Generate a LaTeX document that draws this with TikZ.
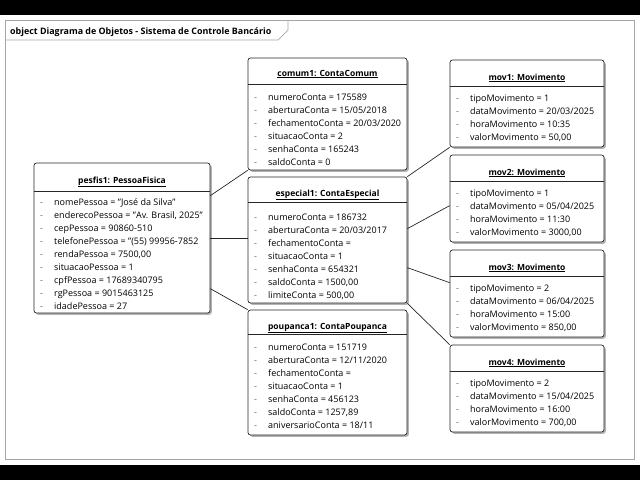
\documentclass[tikz,border=0pt]{standalone}
\usepackage{fontspec}
\setmainfont{Open Sans}
\usetikzlibrary{shadows}
\newcommand{\attrs}[1]{{\fontsize{9}{13}\selectfont\begin{tabular}[t]{@{}p{14pt}@{}l@{}}#1\end{tabular}}}
\newcommand{\dd}{\textcolor{black!60}{-}&}
\newcommand{\otitle}[1]{{\fontsize{8.5}{10}\selectfont\bfseries\underline{#1}}}
\begin{document}
\begin{tikzpicture}[x=1pt,y=-1pt,
  objbox/.style={draw=black!85, fill=white, rounded corners=2.5pt, line width=0.7pt, inner sep=0pt,
    drop shadow={shadow xshift=1.8pt, shadow yshift=-1.8pt, fill=black!30, opacity=1}},
  sepline/.style={draw=black!85, line width=0.7pt},
  ttl/.style={anchor=base, inner sep=0pt},
  att/.style={anchor=base west, inner sep=0pt},
  link/.style={draw=black!85, line width=0.7pt},
  framel/.style={draw=black!35, line width=0.7pt}]
\useasboundingbox (0,0) rectangle (640,480);
\fill[black] (0,0) rectangle (640,15);
\fill[black] (0,465) rectangle (640,480);
% frame
\draw[framel] (5,20) rectangle (634,459);
\draw[framel] (5,40) -- (278,40) -- (288,30) -- (288,20);
\node[anchor=base west, inner sep=0pt, font=\fontsize{8.9}{10}\selectfont\bfseries] (ftitle) at (10,34) {object Diagrama de Objetos - Sistema de Controle Bancário};

% boxes
\node[objbox, minimum width=176pt, minimum height=150pt] (pesfis) at (122,238) {};
\node[objbox, minimum width=159pt, minimum height=112pt] (comum) at (327.5,114) {};
\node[objbox, minimum width=159pt, minimum height=126pt] (especial) at (327.5,240) {};
\node[objbox, minimum width=159pt, minimum height=125pt] (poupanca) at (327.5,372.5) {};
\node[objbox, minimum width=154pt, minimum height=87pt] (mov1) at (527,103.5) {};
\node[objbox, minimum width=154pt, minimum height=87pt] (mov2) at (527,198.5) {};
\node[objbox, minimum width=154pt, minimum height=87pt] (mov3) at (527,293.5) {};
\node[objbox, minimum width=154pt, minimum height=87pt] (mov4) at (527,388.5) {};

% separators
\foreach \b/\d in {pesfis/29, comum/27, especial/26, poupanca/25, mov1/27, mov2/27, mov3/27, mov4/27}{
  \draw[sepline] ([yshift=-\d pt]\b.north west) -- ([yshift=-\d pt]\b.north east);
}

% titles
\node[ttl] (pesfisT) at (122,183) {\otitle{pesfis1: PessoaFisica}};
\node[ttl] (comumT) at (327.5,76) {\otitle{comum1: ContaComum}};
\node[ttl] (especialT) at (327.5,196) {\otitle{especial1: ContaEspecial}};
\node[ttl] (poupancaT) at (327.5,329) {\otitle{poupanca1: ContaPoupanca}};
\node[ttl] (mov1T) at (527,80) {\otitle{mov1: Movimento}};
\node[ttl] (mov2T) at (527,175) {\otitle{mov2: Movimento}};
\node[ttl] (mov3T) at (527,270) {\otitle{mov3: Movimento}};
\node[ttl] (mov4T) at (527,365) {\otitle{mov4: Movimento}};

% attributes
\node[att] (pesfisA) at (40,205) {\attrs{
\dd nomePessoa = "José da Silva"\\
\dd enderecoPessoa = "Av. Brasil, 2025"\\
\dd cepPessoa = 90860-510\\
\dd telefonePessoa = "(55) 99956-7852\\
\dd rendaPessoa = 7500,00\\
\dd situacaoPessoa = 1\\
\dd cpfPessoa = 17689340795\\
\dd rgPessoa = 9015463125\\
\dd idadePessoa = 27}};
\node[att] (comumA) at (254,100) {\attrs{
\dd numeroConta = 175589\\
\dd aberturaConta = 15/05/2018\\
\dd fechamentoConta = 20/03/2020\\
\dd situacaoConta = 2\\
\dd senhaConta = 165243\\
\dd saldoConta = 0}};
\node[att] (especialA) at (254,220) {\attrs{
\dd numeroConta = 186732\\
\dd aberturaConta = 20/03/2017\\
\dd fechamentoConta = \\
\dd situacaoConta = 1\\
\dd senhaConta = 654321\\
\dd saldoConta = 1500,00\\
\dd limiteConta = 500,00}};
\node[att] (poupancaA) at (254,350) {\attrs{
\dd numeroConta = 151719\\
\dd aberturaConta = 12/11/2020\\
\dd fechamentoConta = \\
\dd situacaoConta = 1\\
\dd senhaConta = 456123\\
\dd saldoConta = 1257,89\\
\dd aniversarioConta = 18/11}};
\node[att] (mov1A) at (456,101.5) {\attrs{
\dd tipoMovimento = 1\\
\dd dataMovimento = 20/03/2025\\
\dd horaMovimento = 10:35\\
\dd valorMovimento = 50,00}};
\node[att] (mov2A) at (456,196.5) {\attrs{
\dd tipoMovimento = 1\\
\dd dataMovimento = 05/04/2025\\
\dd horaMovimento = 11:30\\
\dd valorMovimento = 3000,00}};
\node[att] (mov3A) at (456,291.5) {\attrs{
\dd tipoMovimento = 2\\
\dd dataMovimento = 06/04/2025\\
\dd horaMovimento = 15:00\\
\dd valorMovimento = 850,00}};
\node[att] (mov4A) at (456,386.5) {\attrs{
\dd tipoMovimento = 2\\
\dd dataMovimento = 15/04/2025\\
\dd horaMovimento = 16:00\\
\dd valorMovimento = 700,00}};

% links
\coordinate (pA) at ([yshift=-33pt]pesfis.north east);
\coordinate (pB) at ([yshift=-76pt]pesfis.north east);
\coordinate (pC) at ([yshift=-126pt]pesfis.north east);
\coordinate (eA) at ([yshift=-52pt]especial.north east);
\coordinate (eB) at ([yshift=-91pt]especial.north east);
\coordinate (m2) at ([yshift=-51pt]mov2.north west);
\coordinate (m3) at ([yshift=-33pt]mov3.north west);
\draw[link] (pA) -- (comum.south west);
\draw[link] (pB) -- (pB -| especial.west);
\draw[link] (pC) -- (poupanca.north west);
\draw[link] (especial.north east) -- (mov1.south west);
\draw[link] (eA) -- (m2);
\draw[link] (eB) -- (m3);
\draw[link] (especial.south east) -- (mov4.north west);
\end{tikzpicture}
\end{document}
